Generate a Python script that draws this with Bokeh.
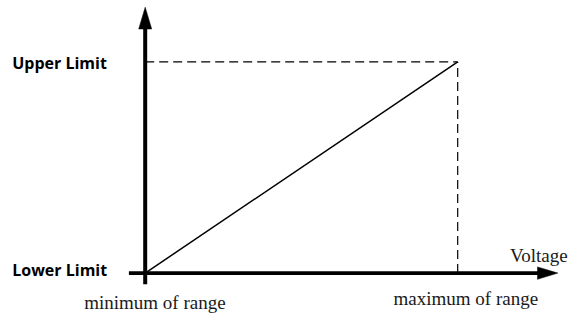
from bokeh.plotting import figure
from bokeh.models import Range1d
from bokeh.core.properties import value
from bokeh.embed import file_html
from bokeh.resources import INLINE

# ---- data ----
x_ticks = [0, 1]
x_tick_labels = ["minimum of range", "maximum of range"]
y_ticks = [0, 1]
y_tick_labels = ["Lower Limit", "Upper Limit"]
line_x = [0, 1]
line_y = [0, 1]
x_axis_title = "Voltage"

# ---- layout constants (pixels) ----
W, H = 572, 313
X0_PX, SX = 144.7, 312.5      # plot px of x=0, px per unit
Y0_PX, SY = 40.4, 211.2       # px from bottom of y=0, px per unit

def dx(px):
    return px / SX

def dy(px):
    return px / SY

p = figure(width=W, height=H, output_backend="svg", toolbar_location=None,
           x_axis_type=None, y_axis_type=None, min_border=0,
           x_range=Range1d(x_ticks[0] - X0_PX / SX, x_ticks[0] + (W - X0_PX) / SX),
           y_range=Range1d(y_ticks[0] - Y0_PX / SY, y_ticks[0] + (H - Y0_PX) / SY))
p.outline_line_color = None
p.grid.visible = False
p.background_fill_color = "white"
p.border_fill_color = "white"

xmin, xmax = x_ticks[0], x_ticks[1]
ymin, ymax = y_ticks[0], y_ticks[1]

# dashed guide lines
p.line([xmin, xmax], [ymax, ymax], line_color="black", line_width=1.2, line_dash="9 5")
p.line([xmax, xmax], [ymin, ymax], line_color="black", line_width=1.2, line_dash="9 5")

# main line
p.line(line_x, line_y, line_color="black", line_width=1.5)

# vertical axis with arrow
v_base = ymax + dy(32.9)
v_tip = ymax + dy(54.7)
p.line([xmin, xmin], [ymin - dy(11.2), v_base + dy(1)], line_color="black", line_width=4)
p.patch([xmin - dx(6.5), xmin + dx(6.5), xmin], [v_base, v_base, v_tip],
        fill_color="black", line_color="black", line_width=0.5)

# horizontal axis with arrow
h_base = xmax + dx(79.8)
h_tip = xmax + dx(100.2)
p.line([xmin - dx(16.3), h_base + dx(1)], [ymin, ymin], line_color="black", line_width=3.6)
p.patch([h_base, h_base, h_tip], [ymin - dy(6.2), ymin + dy(6.2), ymin],
        fill_color="black", line_color="black", line_width=0.5)

# y labels
p.text(x=[xmin, xmin], y=y_ticks, text=y_tick_labels,
       x_offset=-133, y_offset=[-3.3, 1.4],
       text_align="left", text_baseline="middle",
       text_font=value("Open Sans"), text_font_style="bold",
       text_font_size="16px", text_color="black")

# x labels
p.text(x=x_ticks, y=[ymin, ymin], text=x_tick_labels,
       x_offset=[-61, -64.2], y_offset=[29, 25.2],
       text_align="left", text_baseline="alphabetic",
       text_font=value("Liberation Serif"),
       text_font_size="19px", text_color="#1a1a1a")

# axis title
p.text(x=[h_tip], y=[ymin], text=[x_axis_title],
       x_offset=-48, y_offset=-17.6,
       text_align="left", text_baseline="alphabetic",
       text_font=value("Liberation Serif"),
       text_font_size="19px", text_color="#1a1a1a")

open("out.html", "w").write(file_html(p, INLINE))
